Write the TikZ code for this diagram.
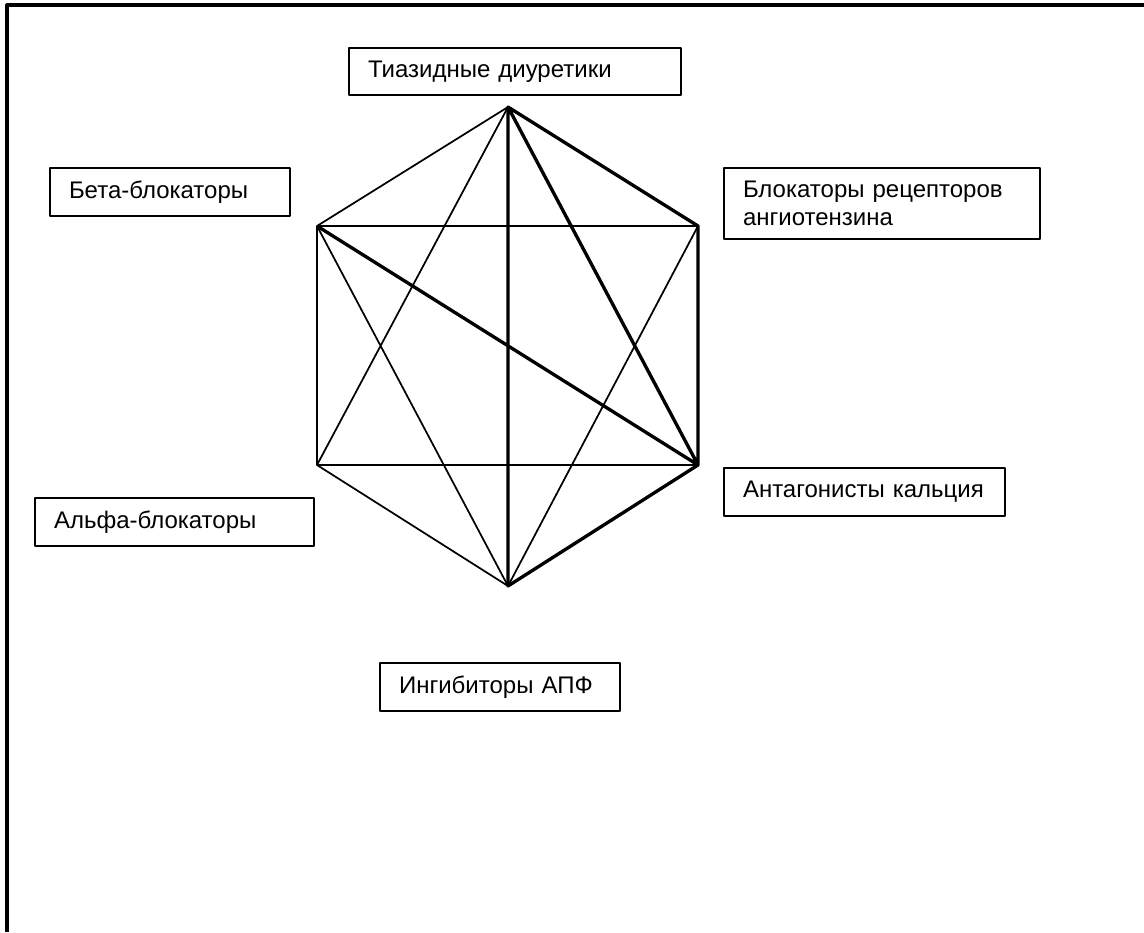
\documentclass[tikz,border=0pt]{standalone}
\usepackage{fontspec}
\setmainfont{Liberation Sans}

\begin{document}
\begin{tikzpicture}[x=0.75pt,y=-0.75pt,line join=round,
        thin edge/.style={line width=1.3pt},
        thick edge/.style={line width=2.5pt},
        drug/.style={draw, line width=1.5pt, anchor=north west, align=left,
                        inner xsep=14.25pt, inner ysep=0pt,
                        font=\fontsize{18}{21}\selectfont}]
    \useasboundingbox (0,0) rectangle (1144,932);
    \draw[line width=2.3pt] (7,932) -- (7,5) -- (1144,5);

    % corners of the hexagon
    \coordinate (t)  at (508,107);
    \coordinate (ur) at (698,226);
    \coordinate (lr) at (698,465);
    \coordinate (b)  at (508,586);
    \coordinate (ll) at (317,465);
    \coordinate (ul) at (317,226);

    \draw[thin edge]
        (t) -- (ul) -- (ll) -- (b)
        (ul) -- (ur)
        (ll) -- (lr)
        (t) -- (ll)
        (ul) -- (b)
        (ur) -- (b)
    ;
    \draw[thick edge]
        (t) -- (ur) -- (lr) -- (b) -- (t) -- (lr) -- (ul)
    ;

    \node[drug, text width=220.5pt, minimum height=35.25pt] (thiaz) at (348,47)
        {Тиазидные диуретики};
    \node[drug, text width=151.5pt, minimum height=36pt] (beta) at (49,167)
        {Бета-блокаторы};
    \node[drug, text width=208.5pt, minimum height=53.25pt] (arb) at (723,167)
        {Блокаторы рецепторов\\ангиотензина};
    \node[drug, text width=182.25pt, minimum height=36pt] (ccb) at (723,467)
        {Антагонисты кальция};
    \node[drug, text width=180.75pt, minimum height=36pt] (alpha) at (34,497)
        {Альфа-блокаторы};
    \node[drug, text width=151.5pt, minimum height=36pt] (ace) at (379,662)
        {Ингибиторы АПФ};
\end{tikzpicture}
\end{document}
